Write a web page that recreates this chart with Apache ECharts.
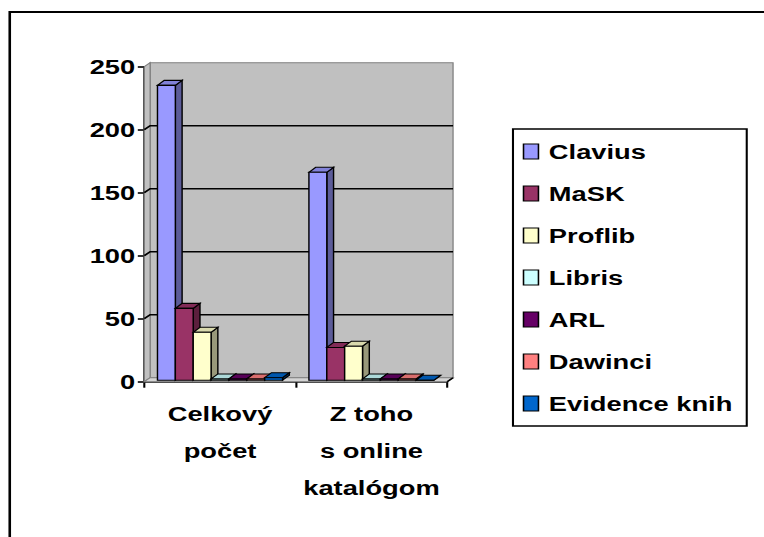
<!DOCTYPE html>
<html>
<head>
<meta charset="utf-8">
<script src="https://cdn.jsdelivr.net/npm/echarts@6/dist/echarts.min.js"></script>
<style>
html, body { margin: 0; padding: 0; background: #fff; overflow: hidden; }
/* the original Excel chart is stretched horizontally, so is this one */
#main { width: 588px; height: 537px; transform: scaleX(1.3); transform-origin: 0 0; }
</style>
</head>
<body>
<div id="main"></div>
<script>
const categories = ['Celkový\npočet', 'Z toho\ns online\nkatalógom']
const seriesNames = ['Clavius', 'MaSK', 'Proflib', 'Libris', 'ARL', 'Dawinci', 'Evidence knih']
const clavius = [234, 165]
const mask = [57, 26]
const proflib = [38, 27]
const libris = [1, 1]
const arl = [1, 1]
const dawinci = [1, 1]
const evidence = [2, 0]
const yTicks = [0, 50, 100, 150, 200, 250]

const values = [clavius, mask, proflib, libris, arl, dawinci, evidence]
const colors = ['#9999FF', '#993366', '#FFFFCC', '#CCFFFF', '#660066', '#FF8080', '#0066CC']

const FONT = 'Liberation Sans, Arial, sans-serif'
const WX = 4.5, WY = 4      // wall depth
const DX = 5.2, DY = 5      // bar depth
const SHIFT = 1.5           // bars sit a bit behind the front edge
const GAP = 0.087           // part of the band left empty on each side

function shade(hex, k) {
  const n = parseInt(hex.slice(1), 16)
  const r = Math.round(((n >> 16) & 255) * k)
  const g = Math.round(((n >> 8) & 255) * k)
  const b = Math.round((n & 255) * k)
  return 'rgb(' + r + ',' + g + ',' + b + ')'
}

// back wall, side wall, floor and the grid lines on them
function renderWalls(params, api) {
  const cs = params.coordSys
  const x = cs.x, y = cs.y, w = cs.width, h = cs.height
  const wallStyle = { fill: '#C0C0C0', stroke: '#808080', lineWidth: 1 }
  const children = [
    { type: 'rect', shape: { x: x + WX, y: y - WY, width: w, height: h }, style: wallStyle },
    { type: 'polygon', shape: { points: [[x, y], [x + WX, y - WY], [x + WX, y + h - WY], [x, y + h]] }, style: wallStyle },
    { type: 'polygon', shape: { points: [[x, y + h], [x + WX, y + h - WY], [x + w + WX, y + h - WY], [x + w, y + h]] },
      style: { fill: '#D4D4D4', stroke: '#808080', lineWidth: 1 } }
  ]
  yTicks.forEach(v => {
    if (v === 0 || v === yTicks[yTicks.length - 1]) return
    const yy = api.coord([0, v])[1]
    children.push({
      type: 'polyline',
      shape: { points: [[x, yy], [x + WX, yy - WY], [x + w + WX, yy - WY]] },
      style: { stroke: '#000', lineWidth: 1.6, fill: null }
    })
  })
  // right end of the floor
  children.push({
    type: 'line',
    shape: { x1: x + w, y1: y + h, x2: x + w + WX, y2: y + h - WY },
    style: { stroke: '#000', lineWidth: 1.5 }
  })
  return { type: 'group', children: children }
}

function renderBar(params, api) {
  const i = params.seriesIndex - 1
  const cat = api.value(0), v = api.value(1)
  const base = api.coord([cat, 0])
  const top = api.coord([cat, v])
  const band = api.size([1, 0])[0]
  const gap = band * GAP
  const bw = (band - 2 * gap) / seriesNames.length
  const x0 = base[0] - band / 2 + gap + i * bw
  const x1 = x0 + bw
  const yb = base[1] - SHIFT, yt = top[1] - SHIFT
  const c = colors[i]
  const line = { stroke: '#000', lineWidth: 1.1 }
  return {
    type: 'group',
    children: [
      { type: 'polygon', shape: { points: [[x1, yb], [x1 + DX, yb - DY], [x1 + DX, yt - DY], [x1, yt]] },
        style: Object.assign({ fill: shade(c, 0.6) }, line) },
      { type: 'polygon', shape: { points: [[x0, yt], [x0 + DX, yt - DY], [x1 + DX, yt - DY], [x1, yt]] },
        style: Object.assign({ fill: shade(c, 0.85) }, line) },
      { type: 'rect', shape: { x: x0, y: yt, width: bw, height: yb - yt },
        style: Object.assign({ fill: c }, line) }
    ]
  }
}

const series = [{
  type: 'custom',
  name: 'walls',
  silent: true,
  z: 1,
  renderItem: renderWalls,
  data: [[0, 0]]
}]
seriesNames.forEach((name, i) => {
  series.push({
    type: 'custom',
    name: name,
    z: 3,
    renderItem: renderBar,
    itemStyle: { color: colors[i], borderColor: '#000', borderWidth: 1 },
    data: values[i].map((v, k) => [k, v])
  })
})

const myChart = echarts.init(document.getElementById('main'), null, { renderer: 'svg' })
myChart.setOption({
  backgroundColor: '#fff',
  animation: false,
  graphic: [{
    type: 'rect',
    shape: { x: 7.5, y: 12, width: 1000, height: 1000 },
    style: { fill: null, stroke: '#000', lineWidth: 2 },
    silent: true
  }],
  grid: { left: 111, top: 66.7, width: 233, height: 315 },
  legend: {
    orient: 'vertical',
    left: 394.6,
    top: 129,
    data: seriesNames,
    icon: 'rect',
    itemWidth: 11.5,
    itemHeight: 15,
    itemGap: 21,
    padding: [12, 11, 12, 7.5],
    borderColor: '#000',
    borderWidth: 1.6,
    itemStyle: { borderColor: '#000', borderWidth: 1.2 },
    textStyle: { fontFamily: FONT, fontSize: 21, fontWeight: 'bold', color: '#000', lineHeight: 21, padding: [0, 0, 0, 3] }
  },
  xAxis: {
    type: 'category',
    data: categories,
    boundaryGap: true,
    axisLine: { lineStyle: { color: '#000', width: 1.6 } },
    axisTick: { show: true, length: 6, lineStyle: { color: '#000', width: 1.6 } },
    axisLabel: { fontFamily: FONT, fontSize: 21, fontWeight: 'bold', color: '#000', lineHeight: 37, margin: 13, interval: 0 },
    splitLine: { show: false }
  },
  yAxis: {
    type: 'value',
    min: 0,
    max: 250,
    interval: 50,
    axisLine: { show: true, lineStyle: { color: '#000', width: 1.6 } },
    axisTick: { show: true, length: 5, lineStyle: { color: '#000', width: 1.6 } },
    axisLabel: { fontFamily: FONT, fontSize: 21, fontWeight: 'bold', color: '#000', margin: 7 },
    splitLine: { show: false }
  },
  series: series
})
</script>
</body>
</html>
